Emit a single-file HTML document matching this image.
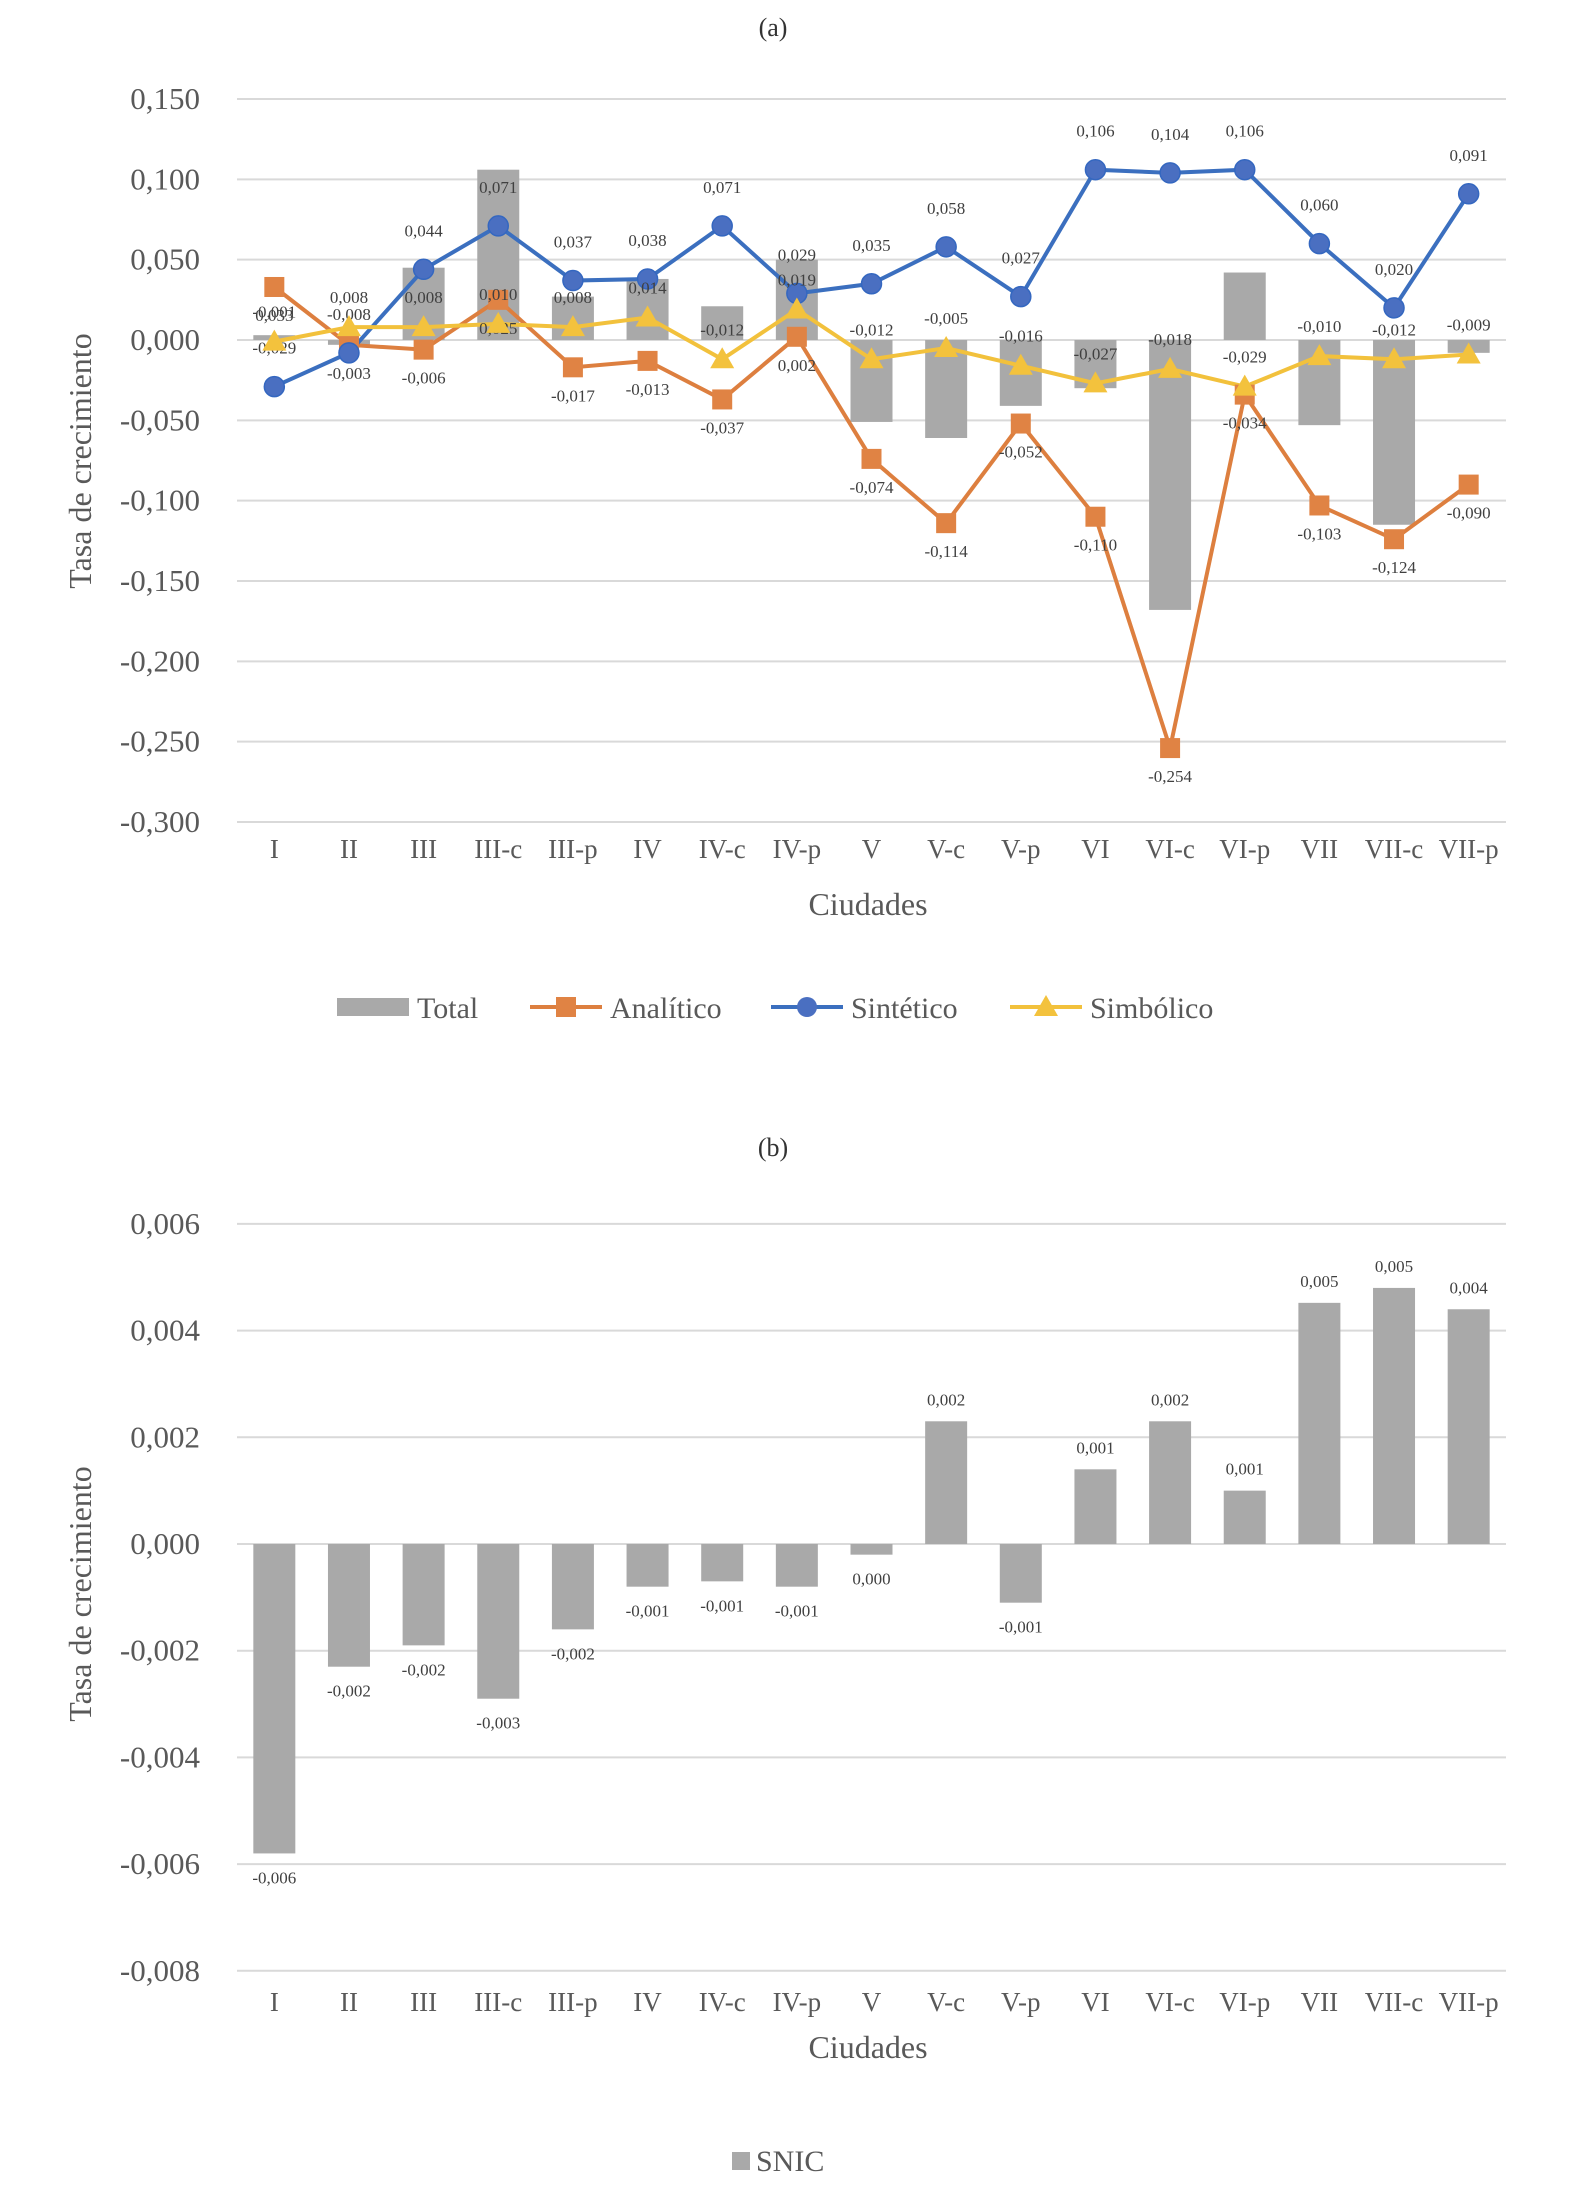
<!DOCTYPE html>
<html><head><meta charset="utf-8"><style>
html,body{margin:0;padding:0;background:#fff}
svg{display:block;font-family:"Liberation Serif",serif}
</style></head><body>
<svg id="s" width="1580" height="2204" viewBox="0 0 1580 2204"></svg>
<script>
const cats=["I","II","III","III-c","III-p","IV","IV-c","IV-p","V","V-c","V-p","VI","VI-c","VI-p","VII","VII-c","VII-p"];
const total=[0.003,-0.003,0.045,0.106,0.027,0.038,0.021,0.050,-0.051,-0.061,-0.041,-0.030,-0.168,0.042,-0.053,-0.115,-0.008];
const analitico=[0.033,-0.003,-0.006,0.025,-0.017,-0.013,-0.037,0.002,-0.074,-0.114,-0.052,-0.110,-0.254,-0.034,-0.103,-0.124,-0.090];
const sintetico=[-0.029,-0.008,0.044,0.071,0.037,0.038,0.071,0.029,0.035,0.058,0.027,0.106,0.104,0.106,0.060,0.020,0.091];
const simbolico=[-0.001,0.008,0.008,0.010,0.008,0.014,-0.012,0.019,-0.012,-0.005,-0.016,-0.027,-0.018,-0.029,-0.010,-0.012,-0.009];
const snic=[-0.0058,-0.0023,-0.0019,-0.0029,-0.0016,-0.0008,-0.0007,-0.0008,-0.0002,0.0023,-0.0011,0.0014,0.0023,0.0010,0.00452,0.0048,0.0044];
const ticksA=[0.15,0.1,0.05,0,-0.05,-0.1,-0.15,-0.2,-0.25,-0.3];
const ticksB=[0.006,0.004,0.002,0,-0.002,-0.004,-0.006,-0.008];

const S=document.getElementById('s');const NS="http://www.w3.org/2000/svg";
function mk(t,a,txt){const e=document.createElementNS(NS,t);for(const k in a)e.setAttribute(k,a[k]);if(txt!=null)e.textContent=txt;S.appendChild(e);return e;}
const X0=237,X1=1506,band=(X1-X0)/cats.length;
const xc=i=>X0+band*(i+0.5);
const yA=v=>340-(v/0.05)*80.33;
const yB=v=>1544-(v/0.002)*106.7;
const fmt=(v,d)=>{let s=Math.abs(v).toFixed(d).replace('.',',');if(v<0&&Math.abs(v)>=0.0005)s='-'+s;return s;};
const grey="#595959";

function axes(ticks,y,dec,xly,cy,ty,ly,yTitleY){
  ticks.forEach(t=>{
    const g=mk('line',{x1:X0,x2:X1,y1:y(t),y2:y(t),stroke:"#d9d9d9","stroke-width":2});
    
    
    const l=mk('text',{x:200,y:y(t)+10,"text-anchor":"end","font-size":31,fill:grey},fmt(t,3));
    
    
  });
  cats.forEach((c,i)=>{
    const l=mk('text',{x:xc(i),y:xly,"text-anchor":"middle","font-size":27,fill:grey},c);
    
    
  });
  const xt=mk('text',{x:868,y:cy,"text-anchor":"middle","font-size":32,fill:grey},"Ciudades");
  
  
  const yt=mk('text',{x:0,y:0,"text-anchor":"middle","font-size":32,fill:grey,transform:`translate(91,${yTitleY}) rotate(-90)`},"Tasa de crecimiento");
  
  
}

// Chart A
let t=mk('text',{x:773,y:36,"text-anchor":"middle","font-size":26,fill:"#333"},"(a)");

axes(ticksA,yA,3,858,915,0,0,461);
total.forEach((v,i)=>{
  const b=mk('rect',{x:xc(i)-21,width:42,y:Math.min(yA(v),yA(0)),height:Math.abs(yA(v)-yA(0)),fill:"#a9a9a9"});
  
  
});
function line(vals,color,name){
  const p=mk('polyline',{points:vals.map((v,i)=>xc(i)+','+yA(v)).join(' '),fill:"none",stroke:color,"stroke-width":4});
  
  
}
line(analitico,"#dd7f3f","analitico");
line(sintetico,"#3b6fbf","sintetico");
line(simbolico,"#f2c13c","simbolico");
analitico.forEach((v,i)=>{
  const m=mk('rect',{x:xc(i)-10,y:yA(v)-10,width:20,height:20,fill:"#e08344"});
  
  
  const l=mk('text',{x:xc(i),y:yA(v)+34,"text-anchor":"middle","font-size":17,fill:"#404040"},fmt(v,3));
  
  
});
sintetico.forEach((v,i)=>{
  const m=mk('circle',{cx:xc(i),cy:yA(v),r:10,fill:"#4a6fc1",stroke:"#3467c0","stroke-width":1.5});
  
  
  const l=mk('text',{x:xc(i),y:yA(v)-33,"text-anchor":"middle","font-size":17,fill:"#404040"},fmt(v,3));
  
  
});
simbolico.forEach((v,i)=>{
  const x=xc(i),y=yA(v);
  const m=mk('polygon',{points:`${x},${y-12} ${x+12},${y+9} ${x-12},${y+9}`,fill:"#f3c23d"});
  
  
  const l=mk('text',{x:x,y:y-24,"text-anchor":"middle","font-size":17,fill:"#404040"},fmt(v,3));
  
  
});
// legend A
const LY=1007;
let g;
g=mk('rect',{x:337,y:LY-9,width:72,height:18,fill:"#a9a9a9"});
g=mk('text',{x:417,y:LY+11,"font-size":30,fill:grey},"Total");
g=mk('line',{x1:530,x2:602,y1:LY,y2:LY,stroke:"#dd7f3f","stroke-width":4});
g=mk('rect',{x:556,y:LY-10,width:20,height:20,fill:"#e08344"});
g=mk('text',{x:610,y:LY+11,"font-size":30,fill:grey},"Analítico");
g=mk('line',{x1:771,x2:843,y1:LY,y2:LY,stroke:"#3b6fbf","stroke-width":4});
g=mk('circle',{cx:807,cy:LY,r:10,fill:"#4a6fc1"});
g=mk('text',{x:851,y:LY+11,"font-size":30,fill:grey},"Sintético");
g=mk('line',{x1:1010,x2:1082,y1:LY,y2:LY,stroke:"#f2c13c","stroke-width":4});
g=mk('polygon',{points:`1046,${LY-12} 1058,${LY+9} 1034,${LY+9}`,fill:"#f3c23d"});
g=mk('text',{x:1090,y:LY+11,"font-size":30,fill:grey},"Simbólico");

// Chart B
t=mk('text',{x:773,y:1156,"text-anchor":"middle","font-size":26,fill:"#333"},"(b)");

axes(ticksB,yB,3,2011,2058,0,0,1594);
snic.forEach((v,i)=>{
  const b=mk('rect',{x:xc(i)-21,width:42,y:Math.min(yB(v),yB(0)),height:Math.abs(yB(v)-yB(0)),fill:"#a9a9a9"});
  
  
  const ly=v>=0?yB(v)-16:yB(v)+30;
  const l=mk('text',{x:xc(i),y:ly,"text-anchor":"middle","font-size":17,fill:"#404040"},fmt(v,3));
  
  
});
g=mk('rect',{x:732,y:2152,width:18,height:18,fill:"#a9a9a9"});
g=mk('text',{x:756,y:2171,"font-size":30,fill:grey},"SNIC");
</script>
</body></html>
